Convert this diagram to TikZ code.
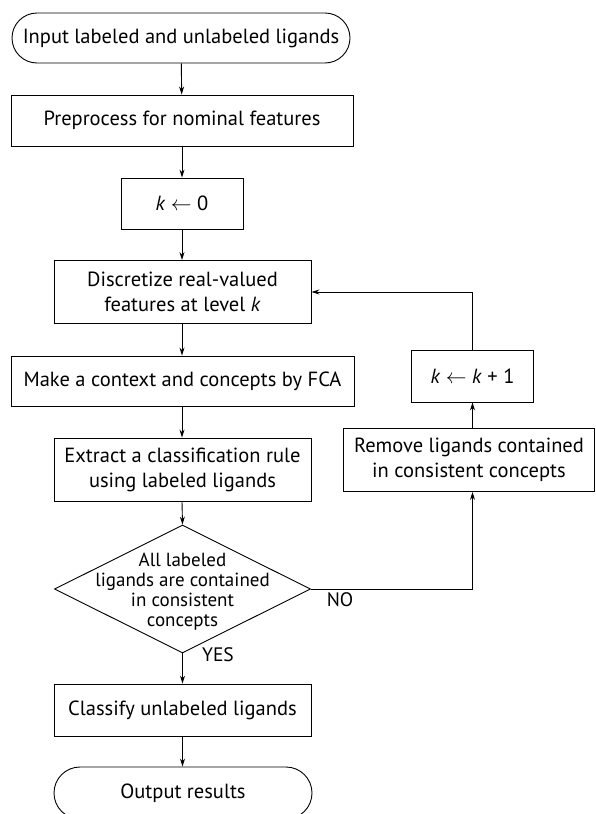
\documentclass[tikz,border=0pt]{standalone}
\usepackage{fontspec}
\setmainfont{PT Sans}
\usetikzlibrary{shapes.geometric,shapes.misc,arrows.meta}
\tikzset{
  base/.style={draw, line width=0.9pt, inner sep=0pt, align=center,
    font=\fontsize{20.5}{25}\selectfont},
  box/.style={base, rectangle},
  term/.style={base, rounded rectangle},
  decbox/.style={draw, line width=0.9pt, diamond, inner sep=0pt},
  dtext/.style={align=center, font=\fontsize{19}{20}\selectfont, inner sep=0pt},
  lbl/.style={font=\fontsize{19.5}{20}\selectfont, inner sep=0pt},
  conn/.style={line width=0.9pt, -{Stealth[length=8pt,width=5pt]}}
}
\begin{document}
\begin{tikzpicture}[x=1pt,y=-1pt]
\useasboundingbox (0,0) rectangle (595,814);
\clip (0,0) rectangle (595,814);
\node[term, minimum width=338pt, minimum height=50pt] (start) at (181,38) {Input labeled and unlabeled ligands};
\node[box, minimum width=342pt, minimum height=51pt] (pre) at (182,120.5) {Preprocess for nominal features};
\node[box, minimum width=122pt, minimum height=51pt] (k0) at (182,203.5) {\textit{k} $\leftarrow$ 0};
\node[box, minimum width=257pt, minimum height=63pt] (disc) at (182.5,292) {Discretize real-valued\\features at level \textit{k}};
\node[box, minimum width=343pt, minimum height=50pt] (make) at (182.5,381) {Make a context and concepts by FCA};
\node[box, minimum width=257pt, minimum height=63pt] (ext) at (182.5,469.5) {Extract a classification rule\\using labeled ligands};
\node[decbox, minimum width=256pt, minimum height=128pt] (dec) at (182.5,589) {};
\node[dtext] (dect) at (182.5,592) {All labeled\\ligands are contained\\in consistent\\concepts};
\node[box, minimum width=257pt, minimum height=52pt] (cls) at (182.5,710) {Classify unlabeled ligands};
\node[term, minimum width=258pt, minimum height=52pt] (out) at (183,793) {Output results};
\node[box, minimum width=122pt, minimum height=52pt] (kp) at (472.5,376) {\textit{k} $\leftarrow$ \textit{k} + 1};
\node[box, minimum width=251pt, minimum height=63pt] (rem) at (469,460) {Remove ligands contained\\in consistent concepts};
\coordinate (c1) at (472.5,589);
\node[lbl] (no) at (340,600) {NO};
\node[lbl] (yes) at (218,655) {YES};

\draw[conn] (start) -- (pre);
\draw[conn] (pre) -- (k0);
\draw[conn] (k0) -- (disc.north -| k0);
\draw[conn] (disc.south -| k0) -- (make.north -| k0);
\draw[conn] (make.south -| k0) -- (ext.north -| k0);
\draw[conn] (ext.south -| k0) -- (dec.north);
\draw[conn] (dec.south) -- (cls.north -| dec.south);
\draw[conn] (cls.south -| dec.south) -- (out.north -| dec.south);
\draw[conn] (dec.east) -- (c1) -- (c1 |- rem.south);
\draw[conn] (c1 |- rem.north) -- (kp.south);
\draw[conn] (kp.north) |- (disc.east);
\end{tikzpicture}
\end{document}
